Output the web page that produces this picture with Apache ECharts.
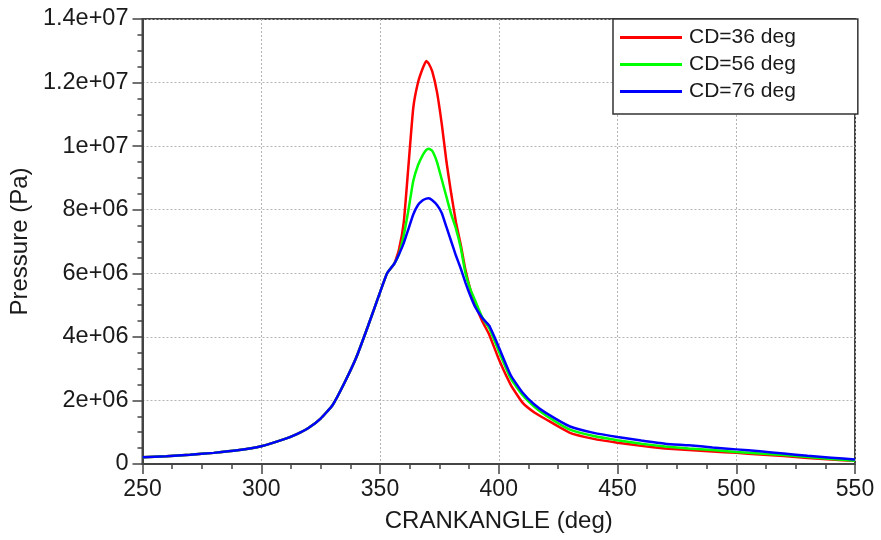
<!DOCTYPE html>
<html>
<head>
<meta charset="utf-8">
<script src="https://cdn.jsdelivr.net/npm/echarts@6/dist/echarts.min.js"></script>
<style>
html,body{margin:0;padding:0;background:#fff;}
#chart{width:881px;height:540px;}
</style>
</head>
<body>
<div id="chart"></div>
<script>
const crankAngle = [250,260,270,280,290,300,310,315,320,325,330,335,340,345,350,353,356,358,360,362,364,366,368,369.5,370.5,372,374,376,378,380,382,384,386,388,390,393,396,400,405,410,415,420,430,440,450,460,470,480,490,500,510,520,530,540,550];

const pressureCD36 = [2.1e5,2.4e5,2.9e5,3.5e5,4.3e5,5.6e5,7.9e5,9.4e5,1.14e6,1.43e6,1.85e6,2.55e6,3.35e6,4.35e6,5.4e6,6.0e6,6.3e6,6.75e6,7.6e6,9.4e6,1.12e7,1.2e7,1.245e7,1.268e7,1.26e7,1.235e7,1.17e7,1.07e7,9.5e6,8.5e6,7.6e6,6.9e6,6.1e6,5.5e6,5.05e6,4.5e6,4.07e6,3.3e6,2.5e6,1.93e6,1.62e6,1.4e6,9.8e5,7.9e5,6.7e5,5.7e5,4.9e5,4.4e5,3.9e5,3.5e5,3.0e5,2.5e5,1.9e5,1.4e5,1.0e5];

const pressureCD56 = [2.1e5,2.4e5,2.9e5,3.5e5,4.3e5,5.6e5,7.9e5,9.4e5,1.14e6,1.43e6,1.85e6,2.55e6,3.35e6,4.35e6,5.4e6,6.0e6,6.3e6,6.6e6,7.2e6,8.0e6,8.9e6,9.4e6,9.72e6,9.88e6,9.92e6,9.85e6,9.5e6,8.95e6,8.4e6,7.85e6,7.4e6,6.8e6,6.0e6,5.5e6,5.15e6,4.62e6,4.27e6,3.55e6,2.7e6,2.17e6,1.8e6,1.52e6,1.08e6,8.8e5,7.5e5,6.4e5,5.5e5,4.9e5,4.4e5,3.8e5,3.3e5,2.8e5,2.2e5,1.6e5,1.0e5];

const pressureCD76 = [2.1e5,2.4e5,2.9e5,3.5e5,4.3e5,5.6e5,7.9e5,9.4e5,1.14e6,1.43e6,1.85e6,2.55e6,3.35e6,4.35e6,5.4e6,6.0e6,6.3e6,6.6e6,6.95e6,7.4e6,7.85e6,8.15e6,8.3e6,8.35e6,8.36e6,8.3e6,8.15e6,7.9e6,7.45e6,7.0e6,6.55e6,6.15e6,5.7e6,5.3e6,4.95e6,4.6e6,4.35e6,3.68e6,2.8e6,2.25e6,1.87e6,1.6e6,1.18e6,9.8e5,8.5e5,7.4e5,6.4e5,5.9e5,5.2e5,4.6e5,4.0e5,3.3e5,2.6e5,2.0e5,1.4e5];

const seriesNames = ['CD=36 deg','CD=56 deg','CD=76 deg'];
const seriesColors = ['#ff0000','#00ff00','#0000ff'];
const yTickLabels = ['0','2e+06','4e+06','6e+06','8e+06','1e+07','1.2e+07','1.4e+07'];
const xTickLabels = ['250','300','350','400','450','500','550'];

const FONT = 'Liberation Sans, Arial, sans-serif';
const zip = (xs, ys) => xs.map((x, i) => [x, ys[i]]);
const allSeries = [pressureCD36, pressureCD56, pressureCD76];

const chart = echarts.init(document.getElementById('chart'), null, {renderer:'canvas'});
chart.setOption({
  backgroundColor: '#ffffff',
  animation: false,
  grid: {
    left: 142, right: 26, top: 19, bottom: 76,
    show: true, borderColor: '#444444', borderWidth: 2, backgroundColor: 'transparent'
  },
  legend: {
    orient: 'vertical',
    left: 613, top: 19,
    padding: [8, 62, 12, 7],
    itemGap: 6,
    itemWidth: 62, itemHeight: 3,
    icon: 'rect',
    backgroundColor: '#ffffff',
    borderColor: '#333333', borderWidth: 1.5,
    textStyle: {fontFamily: FONT, fontSize: 21, color: '#1a1a1a', lineHeight: 21, padding: [0,0,0,2]},
    data: seriesNames
  },
  xAxis: {
    type: 'value', min: 250, max: 550, interval: 50,
    name: 'CRANKANGLE (deg)', nameLocation: 'middle', nameGap: 45,
    nameTextStyle: {fontFamily: FONT, fontSize: 24, color: '#1a1a1a'},
    axisLine: {show: true, onZero: false, lineStyle: {color: '#444444', width: 2}},
    axisTick: {show: true, inside: false, length: 10, lineStyle: {color: '#444444', width: 1.5}},
    minorTick: {show: true, splitNumber: 4, length: 5, lineStyle: {color: '#444444', width: 1.5}},
    axisLabel: {fontFamily: FONT, fontSize: 23, color: '#1a1a1a', margin: 14,
      formatter: v => xTickLabels[Math.round((v - 250) / 50)]},
    splitLine: {show: true, lineStyle: {color: '#b4b4b4', width: 1, type: [2, 2]}}
  },
  yAxis: {
    type: 'value', min: 0, max: 1.4e7, interval: 2e6,
    name: 'Pressure (Pa)', nameLocation: 'middle', nameGap: 100,
    nameTextStyle: {fontFamily: FONT, fontSize: 24, color: '#1a1a1a'},
    axisLine: {show: true, lineStyle: {color: '#444444', width: 2}},
    axisTick: {show: true, inside: false, length: 10, lineStyle: {color: '#444444', width: 1.5}},
    minorTick: {show: true, splitNumber: 4, length: 5, lineStyle: {color: '#444444', width: 1.5}},
    axisLabel: {fontFamily: FONT, fontSize: 23.5, color: '#1a1a1a', margin: 14,
      formatter: v => yTickLabels[Math.round(v / 2e6)]},
    splitLine: {show: true, lineStyle: {color: '#b4b4b4', width: 1, type: [2, 2]}}
  },
  series: allSeries.map((arr, i) => ({
    name: seriesNames[i],
    type: 'line',
    data: zip(crankAngle, arr),
    showSymbol: false,
    symbol: 'none',
    smooth: 0.15,
    lineStyle: {color: seriesColors[i], width: 2.5},
    itemStyle: {color: seriesColors[i]},
    z: 2 + i
  }))
});
</script>
</body>
</html>
